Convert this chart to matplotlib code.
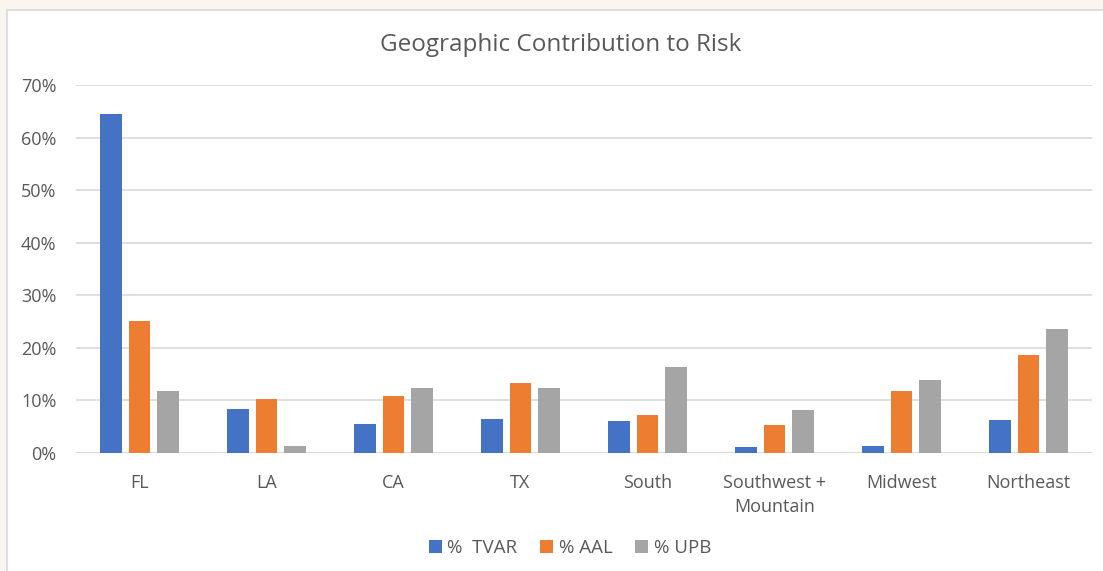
import matplotlib
matplotlib.use("Agg")
import matplotlib.pyplot as plt
import numpy as np
from matplotlib.patches import Rectangle
from matplotlib.ticker import PercentFormatter

categories = ["FL", "LA", "CA", "TX", "South", "Southwest +\nMountain", "Midwest", "Northeast"]
tvar = [64.5, 8.4, 5.5, 6.5, 6.1, 1.1, 1.3, 6.3]
aal = [25.1, 10.3, 10.8, 13.3, 7.2, 5.3, 11.7, 18.6]
upb = [11.8, 1.3, 12.4, 12.4, 16.3, 8.1, 13.9, 23.6]
series_names = ["%  TVAR", "% AAL", "% UPB"]
colors = ["#4472C4", "#ED7D31", "#A5A5A5"]

plt.rcParams['font.family'] = ['Open Sans', 'DejaVu Sans']
txt = "#595959"

W, H = 1103, 571
fig = plt.figure(figsize=(W/100, H/100), dpi=100)
fig.patch.set_facecolor("#FAF6EF")
fig.patches.append(Rectangle((7/W, -0.1), 1.0, 1.1 - 10/H, transform=fig.transFigure,
                             facecolor="white", edgecolor="#D9D9D9", linewidth=1.2, zorder=-5))

ax = fig.add_axes([76/W, (H-453)/H, (1092-76)/W, (453-85)/H])
ax.set_facecolor("none")
x = np.arange(len(categories))
w = 0.173
pitch = 0.224
for i, (vals, c, n) in enumerate(zip([tvar, aal, upb], colors, series_names)):
    ax.bar(x + (i-1)*pitch, vals, width=w, color=c, label=n, zorder=3)

ax.set_xlim(-0.5, len(categories)-0.5)
ax.set_ylim(0, 70)
ax.set_yticks(np.arange(0, 71, 10))
ax.yaxis.set_major_formatter(PercentFormatter(decimals=0))
ax.grid(axis='y', color="#D9D9D9", linewidth=1.2, zorder=0)
for s in ax.spines.values():
    s.set_visible(False)
ax.axhline(0, color="#D9D9D9", linewidth=1.2, zorder=2)
ax.tick_params(axis='both', length=0, labelsize=13, colors=txt)
ax.tick_params(axis='y', pad=14)
ax.tick_params(axis='x', pad=15)
ax.set_xticks(x)
ax.set_xticklabels(categories, linespacing=1.45)

fig.text(561/W, 1 - 45/H, "Geographic Contribution to Risk", ha='center', va='center',
         fontsize=17.5, color=txt)

leg = fig.legend(loc='center', bbox_to_anchor=(570/W, 1 - 548/H), ncol=3, frameon=False,
                 fontsize=13.5, handlelength=0.7, handleheight=0.7, handletextpad=0.3,
                 columnspacing=1.2, labelcolor=txt)

fig.savefig("out.png", dpi=100, facecolor=fig.get_facecolor())
